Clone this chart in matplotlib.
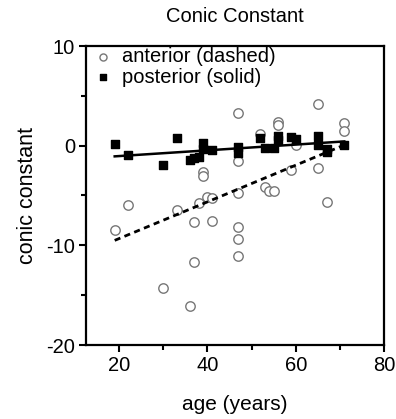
import matplotlib
matplotlib.use("Agg")
import matplotlib.pyplot as plt
import numpy as np
from matplotlib.ticker import MultipleLocator

plt.rcParams['font.family'] = ['Liberation Sans', 'DejaVu Sans']
plt.rcParams['axes.unicode_minus'] = False

# anterior (open circles)
ant_age = [19, 22, 30, 33, 36, 37, 37, 38, 39, 39, 40, 41, 41, 47, 47, 47, 47, 47, 47,
           52, 53, 54, 55, 56, 56, 59, 60, 65, 65, 67, 71, 71]
ant_val = [-8.5, -6.0, -14.3, -6.5, -16.1, -7.7, -11.7, -5.8, -2.6, -3.0, -5.2, -5.3, -7.6,
           3.3, -1.5, -4.7, -8.2, -9.4, -11.1,
           1.2, -4.1, -4.5, -4.5, 2.4, 2.1, -2.4, 0.1, 4.2, -2.2, -5.7, 2.3, 1.5]

# posterior (filled squares)
post_age = [19, 22, 30, 33, 36, 37, 38, 39, 39, 41, 47, 47, 52, 53, 55, 56, 56, 59, 60,
            65, 65, 67, 67, 71]
post_val = [0.2, -0.9, -1.9, 0.8, -1.4, -1.2, -1.1, 0.3, -0.3, -0.4, -0.1, -0.7, 0.8, -0.2,
            -0.2, 1.0, 0.6, 0.9, 0.7, 1.0, 0.1, -0.3, -0.6, 0.1]

# regression lines (intercept, slope)
ant_fit = (-13.0, 0.184)
post_fit = (-1.62, 0.0288)
fit_range = [19, 71]

fig = plt.figure(figsize=(3.96, 4.19), dpi=100)
ax = fig.add_axes([86/396, 1-345/419, (384-86)/396, (345-46)/419])

ax.scatter(ant_age, ant_val, s=46, facecolors='white', edgecolors='#777777',
           linewidths=1.0, marker='o', zorder=3, label='anterior (dashed)')
ax.scatter(post_age, post_val, s=30, color='black', marker='s', zorder=4,
           label='posterior (solid)')

xr = np.array(fit_range, dtype=float)
ax.plot(xr, ant_fit[0] + ant_fit[1]*xr, color='black', lw=2.0, ls=(0, (2.2, 1.6)), zorder=5)
ax.plot(xr, post_fit[0] + post_fit[1]*xr, color='black', lw=1.8, ls='-', zorder=5)

ax.set_xlim(12.5, 80)
ax.set_ylim(-20, 10)
ax.xaxis.set_major_locator(MultipleLocator(20))
ax.xaxis.set_minor_locator(MultipleLocator(10))
ax.yaxis.set_major_locator(MultipleLocator(10))
ax.yaxis.set_minor_locator(MultipleLocator(5))
ax.tick_params(which='both', direction='out', width=1.5, labelsize=14.5, pad=3)
ax.tick_params(which='major', length=5)
ax.tick_params(which='minor', length=3.5)
for sp in ax.spines.values():
    sp.set_linewidth(1.6)

ax.set_title('Conic Constant', fontsize=14.5, pad=17)
ax.set_xlabel('age (years)', fontsize=15, labelpad=14)
ax.set_ylabel('conic constant', fontsize=15.5, labelpad=6)

leg = ax.legend(loc='upper left', bbox_to_anchor=(0.03, 0.995), frameon=False,
                fontsize=14.5, handletextpad=0.55, borderaxespad=0.0, borderpad=0.0,
                labelspacing=0.05, handlelength=0.8, markerscale=0.75)

fig.savefig('out.png', dpi=100)
